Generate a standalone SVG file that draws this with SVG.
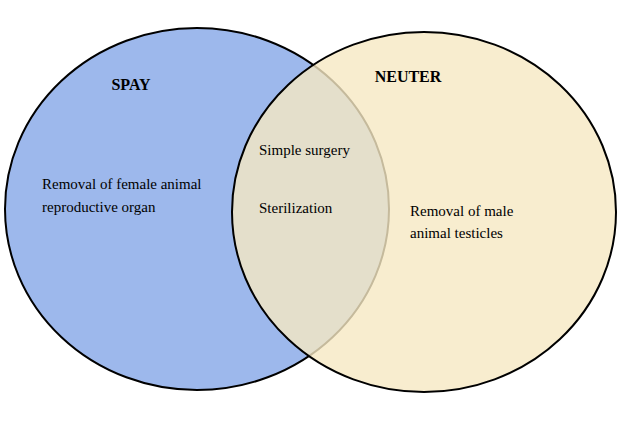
<svg xmlns="http://www.w3.org/2000/svg" width="624" height="423" viewBox="0 0 624 423">
<style>
text{font-family:"Liberation Serif",serif;font-size:15px;fill:#000}
.t{font-weight:bold;font-size:16px;text-anchor:middle}
</style>
<rect width="624" height="423" fill="#fff"/>
<g id="spay"><ellipse cx="197" cy="209" rx="192" ry="181" fill="#9db8ec" stroke="#000" stroke-width="2"/>
<text class="t" x="131" y="90">SPAY</text>
<text x="42" y="189">Removal of female animal</text>
<text x="42" y="212">reproductive organ</text></g>
<g id="neuter"><ellipse cx="424" cy="212" rx="192" ry="180" fill="#f6e8c3" fill-opacity="0.8" stroke="#000" stroke-width="2"/>
<text class="t" x="408" y="82">NEUTER</text>
<text x="410" y="216">Removal of male</text>
<text x="410" y="238">animal testicles</text></g>
<g id="both"><text x="259" y="155">Simple surgery</text>
<text x="259" y="213">Sterilization</text></g>
<g id="connectors"/>
</svg>
